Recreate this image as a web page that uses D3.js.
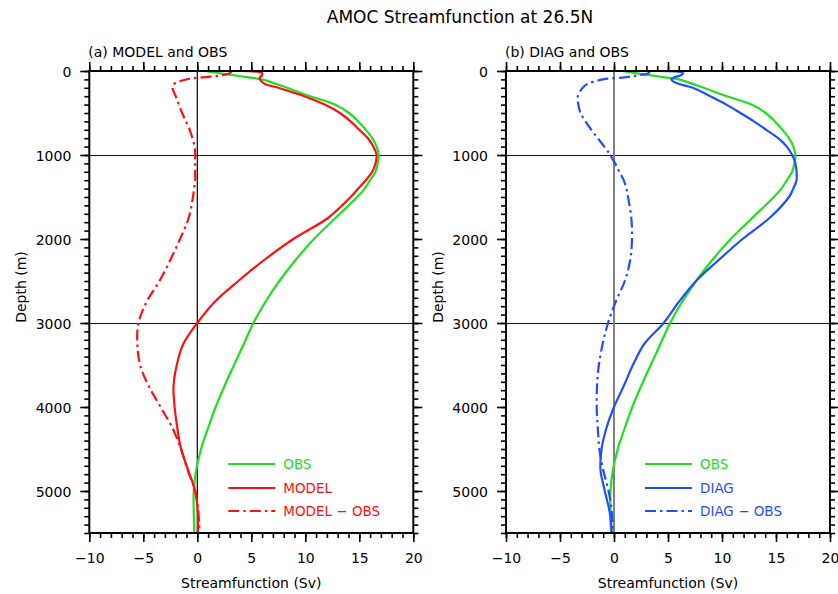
<!DOCTYPE html>
<html>
<head>
<meta charset="utf-8">
<script src="https://cdn.jsdelivr.net/npm/d3@7"></script>
<style>
  body { margin: 0; background: #fff; }
  svg { display: block; }
</style>
</head>
<body>
<svg id="chart"></svg>
<script>
// depth levels (m) shared by every profile
var depths = [0, 25, 50, 75, 100, 150, 200, 300, 400, 500, 600, 700, 800, 900, 1000,
              1100, 1200, 1300, 1400, 1500, 1750, 2000, 2250, 2500, 2750, 3000,
              3250, 3500, 3750, 4000, 4250, 4500, 4750, 5000, 5250, 5500];

// streamfunction (Sv)
var obs = [0.7, 2.0, 3.3, 4.7, 6.0, 7.2, 8.3, 10.45, 12.75, 14.05, 14.9, 15.6, 16.2, 16.6, 16.8,
           16.7, 16.5, 16.0, 15.5, 14.8, 12.8, 10.8, 9.1, 7.6, 6.3, 5.2,
           4.3, 3.4, 2.52, 1.7, 1.0, 0.35, -0.1, -0.33, -0.33, -0.28];
var model = [3.9, 6.0, 6.0, 5.8, 5.8, 6.2, 7.5, 9.9, 11.8, 13.2, 14.2, 15.0, 15.8, 16.3, 16.6,
             16.5, 16.2, 15.6, 14.9, 14.2, 12.1, 8.9, 6.2, 3.8, 1.6, 0.0,
             -1.3, -1.9, -2.2, -2.1, -1.85, -1.5, -0.85, -0.2, 0.05, 0.05];
var modelMinusObs = [3.2, 3.0, 2.3, 0.5, -1.0, -2.1, -2.3, -2.0, -1.7, -1.4, -1.05, -0.7, -0.45, -0.25, -0.2,
                     -0.2, -0.2, -0.2, -0.3, -0.4, -0.8, -1.6, -2.5, -3.5, -4.7, -5.45,
                     -5.55, -5.3, -4.5, -3.4, -2.3, -1.5, -0.9, -0.2, 0.1, 0.2];
var diag = [3.9, 6.4, 6.2, 5.6, 5.3, 5.9, 7.3, 8.9, 10.4, 11.7, 12.95, 14.1, 15.2, 16.0, 16.5,
            16.8, 16.9, 16.9, 16.6, 16.2, 14.4, 11.9, 9.7, 7.6, 6.0, 4.6,
            2.8, 1.75, 0.9, 0.0, -0.7, -1.15, -1.25, -0.85, -0.4, -0.2];
var diagMinusObs = [3.3, 3.2, 2.3, 1.0, -1.0, -2.4, -2.9, -3.35, -3.3, -3.1, -2.65, -2.1, -1.5, -0.9, -0.35,
                    0.1, 0.5, 0.9, 1.15, 1.3, 1.6, 1.67, 1.5, 1.0, 0.15, -0.55,
                    -1.05, -1.4, -1.57, -1.6, -1.5, -1.35, -1.0, -0.5, -0.2, -0.1];

var xTicks = [-10, -5, 0, 5, 10, 15, 20];
var yTicks = [0, 1000, 2000, 3000, 4000, 5000];
var refDepths = [1000, 3000];

var w = 838, h = 594;
var plotTop = 71, plotBottom = 533;
var green = "#22dd22", red = "#ff1010", blue = "#1f4fff";
var fontFamily = "DejaVu Sans, sans-serif";

var svgBase = d3.select("#chart").attr("width", w).attr("height", h);

svgBase.append("text")
    .attr("x", 460).attr("y", 23)
    .attr("text-anchor", "middle")
    .attr("font-family", fontFamily)
    .attr("font-size", "17px")
    .attr("fill", "#000")
    .text("AMOC Streamfunction at 26.5N");

function drawPanel(cfg) {
    var x = d3.scaleLinear().domain([-10, 20]).range([cfg.left, cfg.right]);
    var y = d3.scaleLinear().domain([0, 5500]).range([plotTop, plotBottom]);
    var g = svgBase.append("g");

    // reference lines
    g.selectAll("line.ref").data(refDepths).enter().append("line")
        .attr("x1", cfg.left).attr("x2", cfg.right)
        .attr("y1", function(d) { return y(d) + 0.5; })
        .attr("y2", function(d) { return y(d) + 0.5; })
        .attr("stroke", "#111").attr("stroke-width", 1.2)
        .attr("shape-rendering", "crispEdges");
    g.append("line")
        .attr("x1", x(0)).attr("x2", x(0))
        .attr("y1", plotTop).attr("y2", plotBottom)
        .attr("stroke", cfg.zeroColor).attr("stroke-width", cfg.zeroWidth);

    // curves
    var line = d3.line()
        .x(function(d) { return x(d.v); })
        .y(function(d) { return y(d.d); })
        .curve(d3.curveCatmullRom.alpha(0.5));
    cfg.series.forEach(function(s) {
        var pts = depths.map(function(d, i) { return { d: d, v: s.values[i] }; });
        g.append("path")
            .datum(pts)
            .attr("d", line)
            .attr("fill", "none")
            .attr("stroke", s.color)
            .attr("stroke-width", 2.2)
            .attr("stroke-dasharray", s.dash ? "11,4,2.5,4" : null);
    });

    // axes, ticks outward on all sides
    var minorX = d3.range(-10, 21, 1), minorY = d3.range(0, 5501, 100);
    function axisGroup(axis, tx, ty) {
        var a = g.append("g").attr("transform", "translate(" + tx + "," + ty + ")").call(axis);
        a.select(".domain").remove();
        a.selectAll("line").attr("stroke", "#000").attr("stroke-width", 1.6);
        a.selectAll("text").attr("font-family", fontFamily).attr("font-size", "14px").attr("fill", "#000");
        return a;
    }
    axisGroup(d3.axisBottom(x).tickValues(minorX).tickSize(5).tickFormat(""), 0, plotBottom);
    axisGroup(d3.axisTop(x).tickValues(minorX).tickSize(5).tickFormat(""), 0, plotTop);
    axisGroup(d3.axisLeft(y).tickValues(minorY).tickSize(5).tickFormat(""), cfg.left, 0);
    axisGroup(d3.axisRight(y).tickValues(minorY).tickSize(5).tickFormat(""), cfg.right, 0);

    var bx = axisGroup(d3.axisBottom(x).tickValues(xTicks).tickSize(9).tickPadding(8)
        .tickFormat(function(d) { return d < 0 ? "\u2212" + Math.abs(d) : d; }), 0, plotBottom);
    bx.selectAll("text").attr("dy", "0.9em");
    axisGroup(d3.axisTop(x).tickValues(xTicks).tickSize(9).tickFormat(""), 0, plotTop);
    var ly = axisGroup(d3.axisLeft(y).tickValues(yTicks).tickSize(9).tickPadding(9)
        .tickFormat(d3.format("d")), cfg.left, 0);
    ly.selectAll("text").attr("dy", "0.36em");
    axisGroup(d3.axisRight(y).tickValues(yTicks).tickSize(9).tickFormat(""), cfg.right, 0);

    // frame
    g.append("rect")
        .attr("x", cfg.left).attr("y", plotTop)
        .attr("width", cfg.right - cfg.left).attr("height", plotBottom - plotTop)
        .attr("fill", "none").attr("stroke", "#000").attr("stroke-width", 2);

    // labels
    g.append("text")
        .attr("x", cfg.left - 1).attr("y", 57)
        .attr("font-family", fontFamily).attr("font-size", "14px").attr("fill", "#000")
        .text(cfg.title);
    g.append("text")
        .attr("x", (cfg.left + cfg.right) / 2).attr("y", 588)
        .attr("text-anchor", "middle")
        .attr("font-family", fontFamily).attr("font-size", "14px").attr("fill", "#000")
        .text("Streamfunction (Sv)");
    g.append("text")
        .attr("transform", "translate(" + (cfg.left - 63) + "," + 287 + ") rotate(-90)")
        .attr("text-anchor", "middle")
        .attr("font-family", fontFamily).attr("font-size", "14px").attr("fill", "#000")
        .text("Depth (m)");

    // legend
    var legY = [464, 488, 511];
    cfg.series.forEach(function(s, i) {
        g.append("line")
            .attr("x1", cfg.left + 139).attr("x2", cfg.left + 186)
            .attr("y1", legY[i]).attr("y2", legY[i])
            .attr("stroke", s.color).attr("stroke-width", 2.2)
            .attr("stroke-dasharray", s.dash ? "11,4,2.5,4" : null);
        g.append("text")
            .attr("x", cfg.left + 194).attr("y", legY[i])
            .attr("dy", "0.36em")
            .attr("font-family", fontFamily).attr("font-size", "13.5px").attr("fill", s.color)
            .text(s.name);
    });
}

drawPanel({
    left: 89.3, right: 413.3,
    title: "(a) MODEL and OBS",
    zeroColor: "#000", zeroWidth: 1.2,
    series: [
        { name: "OBS", values: obs, color: green },
        { name: "MODEL", values: model, color: red },
        { name: "MODEL \u2212 OBS", values: modelMinusObs, color: red, dash: true }
    ]
});
drawPanel({
    left: 506, right: 830,
    title: "(b) DIAG and OBS",
    zeroColor: "#808080", zeroWidth: 2,
    series: [
        { name: "OBS", values: obs, color: green },
        { name: "DIAG", values: diag, color: blue },
        { name: "DIAG \u2212 OBS", values: diagMinusObs, color: blue, dash: true }
    ]
});
</script>
</body>
</html>
